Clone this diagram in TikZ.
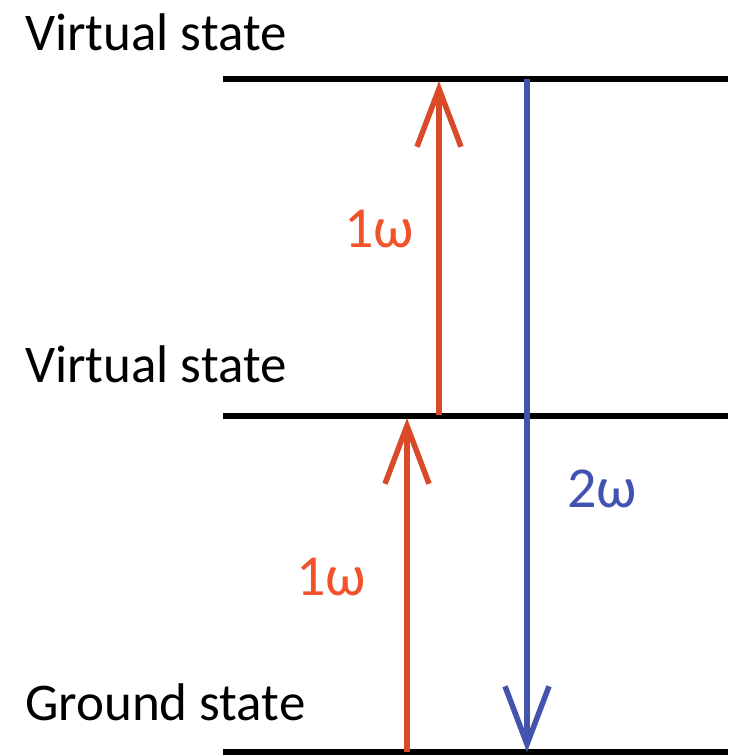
\documentclass[tikz,border=0pt]{standalone}
\usepackage{fontspec}
\setmainfont{Carlito}
\usetikzlibrary{arrows.meta}
\definecolor{redarr}{RGB}{218,74,40}
\definecolor{redtxt}{RGB}{240,82,42}
\definecolor{bluearr}{RGB}{68,84,172}
\definecolor{bluetxt}{RGB}{66,82,178}
\tikzset{
  level/.style={line width=5.5pt, black},
  statelbl/.style={anchor=base west, inner sep=0pt, font=\fontsize{53}{60}\selectfont},
  freqlbl/.style={anchor=base west, inner sep=0pt, font=\fontsize{58}{64}\selectfont},
  photon/.style={line width=5.5pt, -{Straight Barb[length=58pt,width=44pt,line width=5.5pt]}},
}
\begin{document}
\begin{tikzpicture}[x=1pt,y=-1pt]
\useasboundingbox (0,0) rectangle (732,755);
% levels
\coordinate (topL) at (223,79);
\coordinate (topR) at (728,79);
\coordinate (midL) at (223,416);
\coordinate (midR) at (728,416);
\coordinate (botL) at (223,752);
\coordinate (botR) at (728,752);
\draw[level] (topL) -- (topR);
\draw[level] (midL) -- (midR);
\draw[level] (botL) -- (botR);
% labels
\node[statelbl] (vs1) at (25,50) {Virtual state};
\node[statelbl] (vs2) at (25,382) {Virtual state};
\node[statelbl] (gs) at (25,720) {Ground state};
% arrows
\coordinate (r1s) at (407,752);
\coordinate (r1e) at (407,418);
\coordinate (r2s) at (439,415);
\coordinate (r2e) at (439,81);
\coordinate (bs) at (527,79);
\coordinate (be) at (527,752);
\draw[photon, redarr] (r1s) -- (r1e);
\draw[photon, redarr] (r2s) -- (r2e);
\draw[photon, bluearr] (bs) -- (be);
% frequency labels
\node[freqlbl, text=redtxt] (w1) at (344,247) {1ω};
\node[freqlbl, text=redtxt] (w2) at (296,595) {1ω};
\node[freqlbl, text=bluetxt] (w3) at (567,507) {2ω};
\end{tikzpicture}
\end{document}
